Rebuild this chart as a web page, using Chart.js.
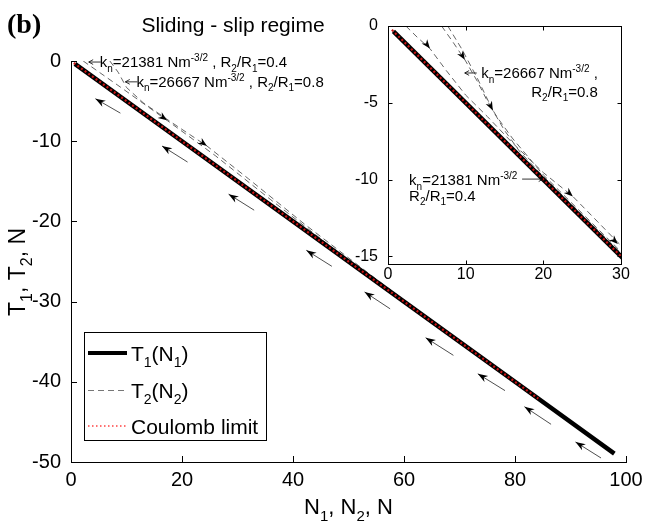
<!DOCTYPE html>
<html>
<head>
<meta charset="utf-8">
<script src="https://cdn.jsdelivr.net/npm/chart.js@4.4.0/dist/chart.umd.min.js"></script>
<style>
  html, body { margin: 0; padding: 0; background: #fff; }
  #wrap { position: relative; width: 659px; height: 524px; }
  #mainChart { position: absolute; left: 0; top: 0; }
  #insetChart { position: absolute; left: 330px; top: 0; }
</style>
</head>
<body>
<div id="wrap">
  <canvas id="mainChart" width="659" height="524"></canvas>
  <canvas id="insetChart" width="329" height="300"></canvas>
</div>
<script>
// tick labels
const xTicks = [0, 20, 40, 60, 80, 100];
const yTicks = [0, -10, -20, -30, -40, -50];
const insetXTicks = [0, 10, 20, 30];
const insetYTicks = [0, -5, -10, -15];

// T1(N1) and Coulomb limit
const n1 = [0.7, 20, 40, 60, 80, 97.9];
const t1 = [-0.35, -10, -20, -30, -40, -48.95];
const nCoulomb = [0.5, 20, 40, 60, 84.2];
const tCoulomb = [-0.25, -10, -20, -30, -42.1];

// T2(N2) loading curves, main plot
const n2a = [2.2, 9, 17.3, 26, 36, 46, 60];
const t2a = [0, -3.3, -7.4, -11.8, -17.3, -22.7, -30];
const n2b = [7, 8.5, 10, 13, 18, 24.5, 32, 42, 55, 70];
const t2b = [0, -1.4, -3.3, -5.2, -7.6, -10.6, -14.7, -20.3, -27.2, -35];

// T2(N2) loading curves, inset
const in2a = [2.3, 3.8, 5.4, 7.5, 10, 12.8, 16, 20, 23.8, 27, 29.6, 30];
const it2a = [0, -0.75, -1.47, -2.9, -4.5, -5.9, -7.6, -9.55, -11.1, -12.75, -14.1, -14.3];
const in2b = [6.9, 8.3, 9.9, 11.5, 12.7, 14, 16, 18, 20, 25, 30];
const it2b = [0, -1.0, -2.2, -3.6, -4.8, -5.9, -7.3, -8.5, -9.7, -12.2, -14.7];
const in2c = [7.7, 9.5, 11.5, 13.5, 15, 17, 20, 25, 30];
const it2c = [0, -1.5, -3.4, -5.5, -6.8, -8.2, -9.8, -12.3, -14.8];

// unloading arrows under the line (main plot)
const upTailN = [8.9, 21, 33, 47, 57.5, 68.9, 78.2, 86.5, 95.5];
const upTailT = [-6.5, -12.6, -18.6, -25.6, -30.9, -36.7, -41.1, -45.3, -49.5];
const upHeadN = [4.4, 16.4, 28.4, 42.4, 52.9, 63.9, 73.3, 81.7, 90.9];
const upHeadT = [-4.7, -10.6, -16.6, -23.6, -28.8, -34.5, -39.0, -43.1, -47.5];

// loading arrowheads on T2 curves
const dnHeadN = [17.3, 24.5];
const dnHeadT = [-7.4, -10.6];
const insHeadN = [5.4, 9.9, 13.5, 23.8, 29.6];
const insHeadT = [-1.47, -2.2, -5.5, -11.1, -14.2];
const insHeadSlope = [-0.65, -0.8, -1.0, -0.45, -0.5];

const FONT = '"Liberation Sans", Arial, Helvetica, sans-serif';
Chart.defaults.font.family = FONT;
Chart.defaults.color = '#000';

function pts(xs, ys) {
  return xs.map((x, i) => ({ x: x, y: ys[i] }));
}

// text with sub (b) / super (p) scripts
function rich(ctx, parts, x, y, size, align) {
  const small = Math.round(size * 0.68);
  let w = 0;
  parts.forEach(p => {
    ctx.font = (p[1] ? small : size) + 'px ' + FONT;
    w += ctx.measureText(p[0]).width;
  });
  let cx = align === 'center' ? x - w / 2 : align === 'right' ? x - w : x;
  ctx.textAlign = 'left';
  ctx.textBaseline = 'alphabetic';
  ctx.fillStyle = '#000';
  parts.forEach(p => {
    ctx.font = (p[1] ? small : size) + 'px ' + FONT;
    const dy = p[1] === 'b' ? size * 0.3 : p[1] === 'p' ? -size * 0.42 : 0;
    ctx.fillText(p[0], cx, y + dy);
    cx += ctx.measureText(p[0]).width;
  });
}

function arrowHead(ctx, x, y, ang, len, wid) {
  ctx.save();
  ctx.translate(x, y);
  ctx.rotate(ang);
  ctx.beginPath();
  ctx.moveTo(0, 0);
  ctx.lineTo(-len, -wid / 2);
  ctx.lineTo(-len * 0.7, 0);
  ctx.lineTo(-len, wid / 2);
  ctx.closePath();
  ctx.fill();
  ctx.restore();
}

function thinArrow(ctx, x0, y0, x1, y1) {
  const ang = Math.atan2(y1 - y0, x1 - x0);
  ctx.save();
  ctx.strokeStyle = '#000';
  ctx.lineWidth = 0.8;
  ctx.beginPath();
  ctx.moveTo(x0, y0);
  ctx.lineTo(x1, y1);
  ctx.moveTo(x1 - 5 * Math.cos(ang - 0.5), y1 - 5 * Math.sin(ang - 0.5));
  ctx.lineTo(x1, y1);
  ctx.lineTo(x1 - 5 * Math.cos(ang + 0.5), y1 - 5 * Math.sin(ang + 0.5));
  ctx.stroke();
  ctx.restore();
}

function slopeAngle(sx, sy, n, t, slope) {
  const dx = sx.getPixelForValue(n + 1) - sx.getPixelForValue(n);
  const dy = sy.getPixelForValue(t + slope) - sy.getPixelForValue(t);
  return Math.atan2(dy, dx);
}

const kn1 = [['k'], ['n', 'b'], ['=21381 Nm'], ['-3/2', 'p'], [' , R'], ['2', 'b'], ['/R'], ['1', 'b'], ['=0.4']];
const kn2 = [['k'], ['n', 'b'], ['=26667 Nm'], ['-3/2', 'p'], [' , R'], ['2', 'b'], ['/R'], ['1', 'b'], ['=0.8']];

const lineT1 = { borderColor: '#000', borderWidth: 4.5, pointRadius: 0, showLine: true, fill: false };
const lineT2 = { borderColor: '#555', borderWidth: 0.9, borderDash: [6, 4], pointRadius: 0, showLine: true, fill: false };
const lineC = { borderColor: 'rgb(205,20,20)', borderWidth: 2.2, borderDash: [2, 2.5], pointRadius: 0, showLine: true, fill: false };

const mainDecor = {
  id: 'mainDecor',
  afterDraw(chart) {
    const { ctx, chartArea: a, scales: { x, y } } = chart;
    ctx.save();
    // inward ticks
    ctx.strokeStyle = '#000';
    ctx.lineWidth = 1;
    ctx.beginPath();
    xTicks.forEach(v => {
      const px = Math.round(x.getPixelForValue(v)) + 0.5;
      ctx.moveTo(px, a.bottom);
      ctx.lineTo(px, a.bottom - 6);
    });
    yTicks.forEach(v => {
      const py = Math.round(y.getPixelForValue(v)) + 0.5;
      ctx.moveTo(a.left, py);
      ctx.lineTo(a.left + 6, py);
    });
    ctx.stroke();

    // unloading arrows
    ctx.fillStyle = '#000';
    upHeadN.forEach((n, i) => {
      const tx = x.getPixelForValue(upTailN[i]), ty = y.getPixelForValue(upTailT[i]);
      const hx = x.getPixelForValue(n), hy = y.getPixelForValue(upHeadT[i]);
      ctx.strokeStyle = '#222';
      ctx.lineWidth = 0.8;
      ctx.beginPath();
      ctx.moveTo(tx, ty);
      ctx.lineTo(hx, hy);
      ctx.stroke();
      arrowHead(ctx, hx, hy, Math.atan2(hy - ty, hx - tx), 10, 7);
    });
    dnHeadN.forEach((n, i) => {
      const hx = x.getPixelForValue(n), hy = y.getPixelForValue(dnHeadT[i]);
      arrowHead(ctx, hx, hy, slopeAngle(x, y, n, dnHeadT[i], -0.5), 9, 7);
    });

    // annotations
    const h1x = x.getPixelForValue(3.2), h1y = y.getPixelForValue(-0.13);
    thinArrow(ctx, h1x + 12, h1y, h1x, h1y);
    rich(ctx, kn1, h1x + 11, h1y + 5, 15, 'left');
    const h2x = x.getPixelForValue(9.8), h2y = y.getPixelForValue(-2.6);
    thinArrow(ctx, h2x + 12, h2y, h2x, h2y);
    rich(ctx, kn2, h2x + 11, h2y + 5, 15, 'left');

    // axis titles
    rich(ctx, [['N'], ['1', 'b'], [', N'], ['2', 'b'], [', N']], (a.left + a.right) / 2, 514, 22, 'center');
    ctx.save();
    ctx.translate(25, 272);
    ctx.rotate(-Math.PI / 2);
    rich(ctx, [['T'], ['1', 'b'], [', T'], ['2', 'b'], [', N']], 0, 0, 23, 'center');
    ctx.restore();

    // title and panel label
    rich(ctx, [['Sliding - slip regime']], 233, 32, 21, 'center');
    ctx.font = 'bold 28px "Liberation Serif", "Times New Roman", serif';
    ctx.textAlign = 'left';
    ctx.fillStyle = '#000';
    ctx.fillText('(b)', 7, 33);

    // legend
    ctx.fillStyle = '#fff';
    ctx.fillRect(84.5, 332.5, 182, 108);
    ctx.strokeStyle = '#000';
    ctx.lineWidth = 1;
    ctx.strokeRect(84.5, 332.5, 182, 108);
    const rows = [353, 390, 426];
    ctx.beginPath();
    ctx.lineWidth = 4; ctx.strokeStyle = '#000'; ctx.setLineDash([]);
    ctx.moveTo(88, rows[0]); ctx.lineTo(127, rows[0]); ctx.stroke();
    ctx.beginPath();
    ctx.lineWidth = 1; ctx.strokeStyle = '#777'; ctx.setLineDash([6, 4]);
    ctx.moveTo(88, rows[1] + 0.5); ctx.lineTo(127, rows[1] + 0.5); ctx.stroke();
    ctx.beginPath();
    ctx.lineWidth = 2; ctx.strokeStyle = '#ff7070'; ctx.setLineDash([1.5, 2.5]);
    ctx.moveTo(88, rows[2]); ctx.lineTo(127, rows[2]); ctx.stroke();
    ctx.setLineDash([]);
    rich(ctx, [['T'], ['1', 'b'], ['(N'], ['1', 'b'], [')']], 131, rows[0] + 7.5, 21, 'left');
    rich(ctx, [['T'], ['2', 'b'], ['(N'], ['2', 'b'], [')']], 131, rows[1] + 7.5, 21, 'left');
    rich(ctx, [['Coulomb limit']], 131, rows[2] + 7.5, 21, 'left');
    ctx.restore();
  }
};

new Chart(document.getElementById('mainChart'), {
  type: 'scatter',
  data: {
    datasets: [
      Object.assign({ label: 'Coulomb limit', data: pts(nCoulomb, tCoulomb) }, lineC),
      Object.assign({ label: 'T1(N1)', data: pts(n1, t1) }, lineT1),
      Object.assign({ label: 'T2(N2)', data: pts(n2a, t2a) }, lineT2),
      Object.assign({ label: 'T2(N2)', data: pts(n2b, t2b) }, lineT2),
    ],
  },
  options: {
    responsive: false,
    animation: false,
    layout: { padding: { left: 0, right: 33, top: 61, bottom: 0 } },
    plugins: { legend: { display: false }, tooltip: { enabled: false } },
    scales: {
      x: {
        min: 0,
        max: 100,
        afterFit: s => { s.height = 62; },
        afterBuildTicks: s => { s.ticks = xTicks.map(v => ({ value: v })); },
        ticks: { font: { size: 20 }, color: '#000', padding: 6, maxRotation: 0 },
        grid: { display: false, drawTicks: false },
        border: { display: true, color: '#000', width: 1 },
      },
      y: {
        min: -50,
        max: 0,
        afterFit: s => { s.width = 71; },
        afterBuildTicks: s => { s.ticks = yTicks.map(v => ({ value: v })); },
        ticks: { font: { size: 20 }, color: '#000', padding: 10 },
        grid: { display: false, drawTicks: false },
        border: { display: true, color: '#000', width: 1 },
      },
    },
  },
  plugins: [mainDecor],
});

const insetDecor = {
  id: 'insetDecor',
  beforeDraw(chart) {
    const { ctx, chartArea: a } = chart;
    ctx.save();
    ctx.fillStyle = '#fff';
    ctx.fillRect(a.left, a.top, a.right - a.left, a.bottom - a.top);
    ctx.restore();
  },
  afterDraw(chart) {
    const { ctx, chartArea: a, scales: { x, y } } = chart;
    ctx.save();
    ctx.strokeStyle = '#000';
    ctx.lineWidth = 1;
    const l = Math.round(a.left) + 0.5, r = Math.round(a.right) + 0.5;
    const t = Math.round(a.top) + 0.5, b = Math.round(a.bottom) + 0.5;
    ctx.strokeRect(l, t, r - l, b - t);
    ctx.beginPath();
    insetXTicks.forEach(v => {
      const px = Math.round(x.getPixelForValue(v)) + 0.5;
      ctx.moveTo(px, b); ctx.lineTo(px, b - 4);
      ctx.moveTo(px, t); ctx.lineTo(px, t + 4);
    });
    insetYTicks.forEach(v => {
      const py = Math.round(y.getPixelForValue(v)) + 0.5;
      ctx.moveTo(l, py); ctx.lineTo(l + 4, py);
      ctx.moveTo(r, py); ctx.lineTo(r - 4, py);
    });
    ctx.stroke();

    ctx.fillStyle = '#000';
    insHeadN.forEach((n, i) => {
      const hx = x.getPixelForValue(n), hy = y.getPixelForValue(insHeadT[i]);
      arrowHead(ctx, hx, hy, slopeAngle(x, y, n, insHeadT[i], insHeadSlope[i]), 9, 7);
    });

    const a1x = x.getPixelForValue(9.88), a1y = y.getPixelForValue(-3.06);
    thinArrow(ctx, a1x + 12, a1y, a1x, a1y);
    rich(ctx, [['k'], ['n', 'b'], ['=26667 Nm'], ['-3/2', 'p'], [' ,']], a1x + 16.5, a1y + 5.5, 15, 'left');
    rich(ctx, [['R'], ['2', 'b'], ['/R'], ['1', 'b'], ['=0.8']], a1x + 66.5, a1y + 24, 15, 'left');
    const a2x = x.getPixelForValue(19.97), a2y = y.getPixelForValue(-9.97);
    thinArrow(ctx, a2x - 21, a2y, a2x, a2y);
    rich(ctx, [['k'], ['n', 'b'], ['=21381 Nm'], ['-3/2', 'p']], a2x - 134, a2y + 6, 15, 'left');
    rich(ctx, [['R'], ['2', 'b'], ['/R'], ['1', 'b'], ['=0.4']], a2x - 134, a2y + 21.5, 15, 'left');
    ctx.restore();
  }
};

new Chart(document.getElementById('insetChart'), {
  type: 'scatter',
  data: {
    datasets: [
      Object.assign({ label: 'Coulomb limit', data: pts(nCoulomb, tCoulomb) }, lineC),
      Object.assign({ label: 'T1(N1)', data: pts(n1, t1) }, lineT1),
      Object.assign({ label: 'T2(N2)', data: pts(in2a, it2a) }, lineT2),
      Object.assign({ label: 'T2(N2)', data: pts(in2b, it2b) }, lineT2),
      Object.assign({ label: 'T2(N2)', data: pts(in2c, it2c) }, lineT2),
    ],
  },
  options: {
    responsive: false,
    animation: false,
    layout: { padding: { left: 0, right: 38, top: 26, bottom: 0 } },
    plugins: { legend: { display: false }, tooltip: { enabled: false } },
    scales: {
      x: {
        min: 0,
        max: 30,
        afterFit: s => { s.height = 36; },
        afterBuildTicks: s => { s.ticks = insetXTicks.map(v => ({ value: v })); },
        ticks: { font: { size: 16 }, color: '#000', padding: 1, maxRotation: 0 },
        grid: { display: false, drawTicks: false },
        border: { display: false },
      },
      y: {
        min: -15.5,
        max: 0,
        afterFit: s => { s.width = 58; },
        afterBuildTicks: s => { s.ticks = insetYTicks.map(v => ({ value: v })); },
        ticks: { font: { size: 16 }, color: '#000', padding: 10 },
        grid: { display: false, drawTicks: false },
        border: { display: false },
      },
    },
  },
  plugins: [insetDecor],
});
</script>
</body>
</html>
